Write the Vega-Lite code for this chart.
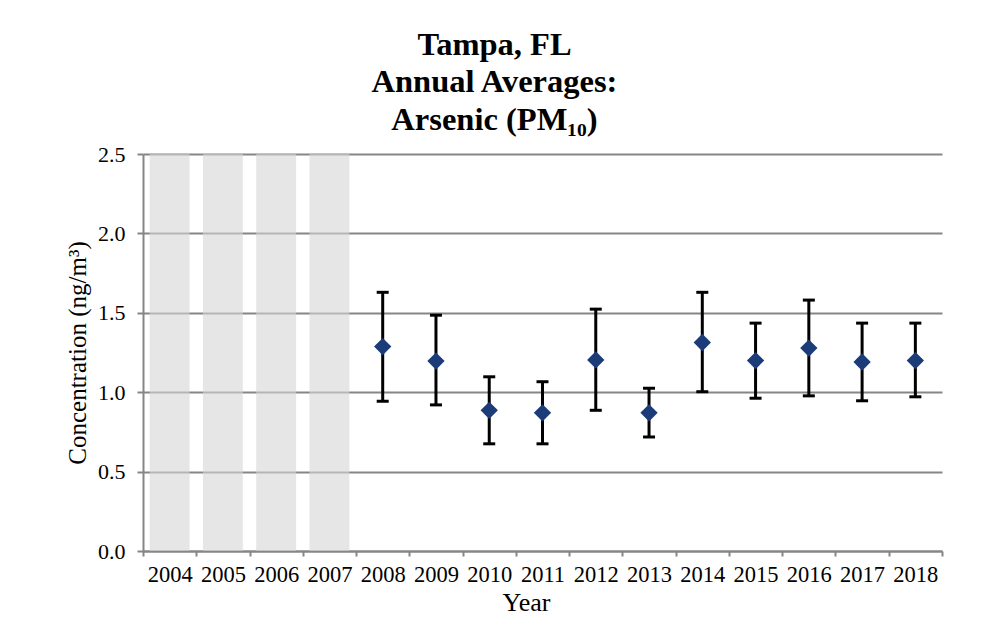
{
  "$schema": "https://vega.github.io/schema/vega-lite/v6.json",
  "autosize": {"type": "none"},
  "width": 799,
  "height": 397,
  "padding": {"left": 143, "top": 154, "right": 40, "bottom": 75},
  "background": "white",
  "config": {
    "view": {"stroke": null},
    "font": "Liberation Serif"
  },
  "title": {
    "text": ["Tampa, FL", "Annual Averages:", "Arsenic (PM₁₀)"],
    "font": "Liberation Serif",
    "fontSize": 32.5,
    "fontWeight": "bold",
    "color": "#000000",
    "lineHeight": 37.5,
    "anchor": "middle",
    "baseline": "alphabetic",
    "dx": -48,
    "offset": -19
  },
  "data": {
    "values": [
      {"year": "2004", "mean": null, "lo": null, "hi": null},
      {"year": "2005", "mean": null, "lo": null, "hi": null},
      {"year": "2006", "mean": null, "lo": null, "hi": null},
      {"year": "2007", "mean": null, "lo": null, "hi": null},
      {"year": "2008", "mean": 1.287, "lo": 0.943, "hi": 1.629},
      {"year": "2009", "mean": 1.196, "lo": 0.920, "hi": 1.485},
      {"year": "2010", "mean": 0.886, "lo": 0.675, "hi": 1.097},
      {"year": "2011", "mean": 0.870, "lo": 0.675, "hi": 1.066},
      {"year": "2012", "mean": 1.203, "lo": 0.886, "hi": 1.523},
      {"year": "2013", "mean": 0.870, "lo": 0.718, "hi": 1.025},
      {"year": "2014", "mean": 1.313, "lo": 1.003, "hi": 1.629},
      {"year": "2015", "mean": 1.199, "lo": 0.962, "hi": 1.435},
      {"year": "2016", "mean": 1.278, "lo": 0.977, "hi": 1.580},
      {"year": "2017", "mean": 1.190, "lo": 0.946, "hi": 1.435},
      {"year": "2018", "mean": 1.199, "lo": 0.971, "hi": 1.435}
    ]
  },
  "encoding": {
    "x": {
      "field": "year",
      "type": "ordinal",
      "scale": {"type": "band", "paddingInner": 0, "paddingOuter": 0},
      "axis": {
        "title": "Year",
        "titleFont": "Liberation Serif",
        "titleFontSize": 26,
        "titleFontWeight": "normal",
        "titleColor": "#000000",
        "titlePadding": 4,
        "titleX": 383,
        "labelFont": "Liberation Serif",
        "labelFontSize": 22.5,
        "labelColor": "#000000",
        "labelAngle": 0,
        "labelPadding": 7,
        "tickBand": "extent",
        "tickSize": 5,
        "tickWidth": 2,
        "tickColor": "#868686",
        "domainColor": "#868686",
        "domainWidth": 2,
        "grid": false
      }
    }
  },
  "layer": [
    {
      "transform": [{"filter": "datum.mean == null"}],
      "mark": {"type": "bar", "width": {"band": 0.75}, "fill": "#d6d6d6", "opacity": 0.6},
      "encoding": {
        "y": {"datum": 0, "type": "quantitative"},
        "y2": {"datum": 2.5}
      }
    },
    {
      "transform": [{"filter": "datum.mean != null"}],
      "mark": {"type": "rule", "color": "#000000", "strokeWidth": 3},
      "encoding": {
        "y": {"field": "lo", "type": "quantitative"},
        "y2": {"field": "hi"}
      }
    },
    {
      "transform": [{"filter": "datum.mean != null"}],
      "mark": {"type": "tick", "color": "#000000", "size": 12, "thickness": 3, "opacity": 1},
      "encoding": {
        "y": {"field": "lo", "type": "quantitative"}
      }
    },
    {
      "transform": [{"filter": "datum.mean != null"}],
      "mark": {"type": "tick", "color": "#000000", "size": 12, "thickness": 3, "opacity": 1},
      "encoding": {
        "y": {"field": "hi", "type": "quantitative"}
      }
    },
    {
      "transform": [{"filter": "datum.mean != null"}],
      "mark": {"type": "point", "shape": "diamond", "filled": true, "color": "#1b3c78", "opacity": 1, "size": 300},
      "encoding": {
        "y": {
          "field": "mean",
          "type": "quantitative",
          "scale": {"domain": [0, 2.5], "nice": false, "zero": true},
          "axis": {
            "title": "Concentration (ng/m³)",
            "titleFont": "Liberation Serif",
            "titleFontSize": 25,
            "titleFontWeight": "normal",
            "titleColor": "#000000",
            "titlePadding": 7,
            "values": [0, 0.5, 1, 1.5, 2, 2.5],
            "format": ".1f",
            "labelFont": "Liberation Serif",
            "labelFontSize": 22,
            "labelColor": "#000000",
            "labelPadding": 12,
            "tickSize": 6,
            "tickWidth": 2,
            "tickColor": "#868686",
            "domainColor": "#868686",
            "domainWidth": 2,
            "grid": true,
            "gridColor": "#868686",
            "gridWidth": 2,
            "gridOpacity": 1
          }
        }
      }
    }
  ]
}
